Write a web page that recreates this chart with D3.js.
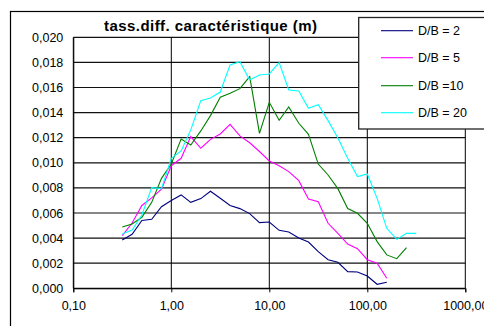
<!DOCTYPE html>
<html>
<head>
<meta charset="utf-8">
<script src="https://cdn.jsdelivr.net/npm/d3@7"></script>
<style>
  body { margin: 0; background: #fff; }
  svg { display: block; font-family: "Liberation Sans", Arial, sans-serif; }
</style>
</head>
<body>
<div class="chart-container"></div>
<script>
// x positions (log scale), shared by all series
var xValues = [0.316, 0.398, 0.501, 0.631, 0.794, 1, 1.26, 1.58, 2, 2.51, 3.16, 3.98,
    5.01, 6.31, 7.94, 10, 12.6, 15.8, 20, 25.1, 31.6, 39.8, 50.1, 63.1, 79.4, 100,
    126, 158, 200, 251, 316];

var seriesNames = ["D/B = 2", "D/B = 5", "D/B =10", "D/B = 20"];
var seriesColors = ["#000080", "#ff00ff", "#008000", "#00ffff"];

var db2 = [0.00385, 0.0043, 0.0054, 0.0055, 0.0065, 0.0070, 0.00744, 0.00685, 0.00715,
    0.00773, 0.00717, 0.0066, 0.00635, 0.00595, 0.00523, 0.00528, 0.00462, 0.00449,
    0.00401, 0.00369, 0.00292, 0.00228, 0.00207, 0.00133, 0.0013, 0.00098, 0.00032, 0.00048];
var db5 = [0.0042, 0.0052, 0.0066, 0.0072, 0.0079, 0.00977, 0.01036, 0.01209, 0.01116,
    0.01187, 0.0123, 0.01307, 0.01214, 0.0116, 0.0109, 0.01015, 0.00977, 0.0093,
    0.00858, 0.00712, 0.0069, 0.00518, 0.00438, 0.00353, 0.00316, 0.00228, 0.0020, 0.0008];
var db10 = [0.00489, 0.00513, 0.00566, 0.00685, 0.00876, 0.0099, 0.0119, 0.01142, 0.01254,
    0.01376, 0.01522, 0.01554, 0.01591, 0.01687, 0.01235, 0.01482, 0.01339, 0.01445,
    0.01315, 0.01227, 0.0099, 0.00903, 0.00794, 0.00635, 0.00598, 0.00518, 0.00372,
    0.00266, 0.00236, 0.00324];
var db20 = [0.00433, 0.00465, 0.00584, 0.00802, 0.00794, 0.01036, 0.01094, 0.01262, 0.01495,
    0.01517, 0.01564, 0.0178, 0.01806, 0.0166, 0.017, 0.01708, 0.01798, 0.0158, 0.01572,
    0.01434, 0.01463, 0.01336, 0.01198, 0.01036, 0.0089, 0.00911, 0.00717, 0.00478,
    0.0039, 0.00438, 0.00438];

var xTicks = [0.1, 1, 10, 100, 1000];
var xTickLabels = ["0,10", "1,00", "10,00", "100,00", "1000,00"];
var yTicks = [0, 0.002, 0.004, 0.006, 0.008, 0.010, 0.012, 0.014, 0.016, 0.018, 0.020];
var yTickLabels = ["0,000", "0,002", "0,004", "0,006", "0,008", "0,010", "0,012",
    "0,014", "0,016", "0,018", "0,020"];

var allSeries = [db2, db5, db10, db20];

function renderChart() {
    var W = 484, H = 326;
    var plot = {left: 73.3, right: 465.3, top: 37.3, bottom: 288.3};

    var svg = d3.select('.chart-container').append('svg')
        .attr('width', W)
        .attr('height', H);

    svg.append('rect').attr('width', W).attr('height', H).attr('fill', '#fff');

    // outer chart border (runs off the right/bottom edge)
    svg.append('rect')
        .attr('x', 10.5).attr('y', 11.5)
        .attr('width', 500).attr('height', 340)
        .attr('fill', 'none').attr('stroke', '#000').attr('stroke-width', 1.2);

    var x = d3.scaleLog().domain([0.1, 1000]).range([plot.left, plot.right]);
    var y = d3.scaleLinear().domain([0, 0.02]).range([plot.bottom, plot.top]);

    // horizontal gridlines
    svg.append('g').selectAll('line')
        .data(yTicks)
        .enter().append('line')
        .attr('x1', plot.left).attr('x2', plot.right)
        .attr('y1', function(d) { return y(d); })
        .attr('y2', function(d) { return y(d); })
        .attr('stroke', '#111').attr('stroke-width', 1.2);

    // vertical gridlines at decades
    svg.append('g').selectAll('line')
        .data(xTicks)
        .enter().append('line')
        .attr('x1', function(d) { return x(d); })
        .attr('x2', function(d) { return x(d); })
        .attr('y1', plot.top).attr('y2', plot.bottom)
        .attr('stroke', '#000').attr('stroke-width', 1);

    // x axis with outward ticks
    var xAxis = d3.axisBottom(x)
        .tickValues(xTicks)
        .tickSize(4)
        .tickPadding(9)
        .tickFormat(function(d, i) { return xTickLabels[i]; });
    var gx = svg.append('g')
        .attr('transform', 'translate(0,' + plot.bottom + ')')
        .call(xAxis);
    gx.select('.domain').attr('stroke', '#000');
    gx.selectAll('.tick line').attr('stroke', '#000');
    gx.selectAll('text')
        .attr('font-size', '12.5px')
        .attr('fill', '#000')
        .attr('font-family', '"Liberation Sans", Arial, sans-serif');

    // y axis labels
    var yAxis = d3.axisLeft(y)
        .tickValues(yTicks)
        .tickSize(0)
        .tickPadding(10)
        .tickFormat(function(d, i) { return yTickLabels[i]; });
    var gy = svg.append('g')
        .attr('transform', 'translate(' + plot.left + ',0)')
        .call(yAxis);
    gy.select('.domain').attr('stroke', '#000');
    gy.selectAll('text')
        .attr('font-size', '12.5px')
        .attr('fill', '#000')
        .attr('font-family', '"Liberation Sans", Arial, sans-serif');

    // series lines
    var line = d3.line()
        .x(function(d, i) { return x(xValues[i]); })
        .y(function(d) { return y(d); });

    allSeries.forEach(function(s, k) {
        svg.append('path')
            .datum(s)
            .attr('d', line)
            .attr('fill', 'none')
            .attr('stroke', seriesColors[k])
            .attr('stroke-width', 1.1);
    });

    // title
    svg.append('text')
        .attr('x', 210.5).attr('y', 31)
        .attr('text-anchor', 'middle')
        .attr('font-size', '15px')
        .attr('font-weight', 'bold')
        .attr('textLength', 213)
        .attr('lengthAdjust', 'spacing')
        .text('tass.diff. caractéristique (m)');

    // legend
    var lg = svg.append('g');
    lg.append('rect')
        .attr('x', 358.7).attr('y', 17.5)
        .attr('width', 140).attr('height', 111.5)
        .attr('fill', '#fff').attr('stroke', '#222').attr('stroke-width', 1.3);
    var legendY = [30.7, 57.7, 85.7, 112.7];
    seriesNames.forEach(function(name, k) {
        lg.append('line')
            .attr('x1', 381).attr('x2', 413)
            .attr('y1', legendY[k]).attr('y2', legendY[k])
            .attr('stroke', seriesColors[k]).attr('stroke-width', 1.1);
        lg.append('text')
            .attr('x', 418).attr('y', legendY[k])
            .attr('dy', '0.36em')
            .attr('font-size', '12.5px')
            .text(name);
    });
}

renderChart();
</script>
</body>
</html>
